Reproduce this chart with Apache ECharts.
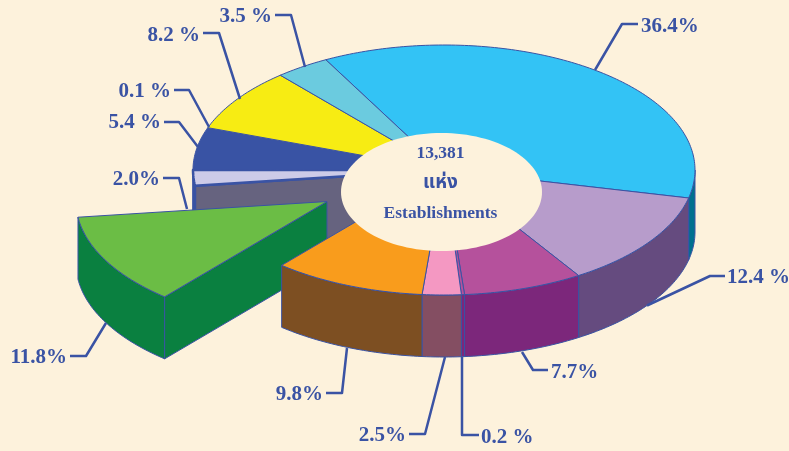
<!DOCTYPE html>
<html>
<head>
<meta charset="utf-8">
<style>html,body{margin:0;padding:0;background:#FDF2DC}#c{width:789px;height:451px}</style>
<script src="https://cdn.jsdelivr.net/npm/echarts@6/dist/echarts.min.js"></script>
</head>
<body>
<div id="c"></div>
<script>
// Data, clockwise from the start angle
var sliceNames = ['a','b','c','d','e','f','g','h','i','j','k','l'];
var sliceValues = [36.4, 12.4, 7.7, 0.2, 2.5, 9.8, 11.8, 2.0, 0.1, 5.4, 8.2, 3.5];
var sliceLabels = ['36.4%','12.4 %','7.7%','0.2 %','2.5%','9.8%','11.8%','2.0%','0.1 %','5.4 %','8.2 %','3.5 %'];
var centerLines = ['13,381', 'แห่ง', 'Establishments'];

// Styles
var topColors = ['#33C3F5','#B79CCB','#B5519C','#B5519C','#F498C2','#F99C1C','#6BBD45','#CDCBE8','#3953A4','#3953A4','#F7EC13','#6BCBDF'];
var wallColors = ['#00708F','#654B7F','#7C277B','#7C277B','#844E62','#7D4F22','#0A8040','#3953A4','#3953A4','#3953A4','#F7EC13','#6BCBDF'];
var cutWallColor = '#66637F';
var ink = '#3A53A4';
var bg = '#FDF2DC';

// Geometry
var geo = {cx:444, cy:170, rx:251, ry:125, depth:62, start:-28.1,
           holeX:441.5, holeY:192, holeRx:100.5, holeRy:59};
var explodedIndex = 6, explodeShift = [-117, 31.5];
var removedNeighbour = 7;

// Leader lines: [points], label x, label y, label alignment (per slice)
var leaders = [
 [[[595,70],[622,24],[638,24]], 641, 27, 'left'],
 [[[647,305.5],[710,276],[725,276]], 727, 278, 'left'],
 [[[522,352],[533,370],[548,370]], 551, 373, 'left'],
 [[[462,357],[462,435],[479,435]], 481, 438, 'left'],
 [[[445,357],[425,434],[409,434]], 406, 436, 'right'],
 [[[347,348],[342,393],[326,393]], 323, 395, 'right'],
 [[[106,323],[86,356],[70,356]], 67, 358, 'right'],
 [[[187,209],[179,178],[163,178]], 160, 180, 'right'],
 [[[209,127],[189,90],[174,90]], 171, 92, 'right'],
 [[[198,147],[179,122],[164,122]], 161, 123, 'right'],
 [[[240,99],[219,33],[203,33]], 200, 36, 'right'],
 [[[305,67],[291,15],[275,15]], 272, 17, 'right']
];

var total = sliceValues.reduce(function(a,b){return a+b;},0);
function pt(deg, s, dy){
  var r = deg*Math.PI/180;
  return [geo.cx + s[0] + geo.rx*Math.sin(r), geo.cy + s[1] + geo.ry*(-Math.cos(r)) + (dy||0)];
}
function arc(a0, a1, s, dy){
  var out = [], n = Math.max(1, Math.ceil(Math.abs(a1-a0)));
  for (var i=0;i<=n;i++) out.push(pt(a0+(a1-a0)*i/n, s, dy));
  return out;
}
function poly(points, fill, z, stroke, lw){
  return {type:'polygon', z2:z, shape:{points:points},
    style:{fill:fill, stroke:stroke||ink, lineWidth:lw||1, lineJoin:'round'}, silent:true};
}
function renderSlice(params, api){
  var i = params.dataIndex, kids = [];
  var before = 0;
  for (var k=0;k<i;k++) before += sliceValues[k];
  var a0 = geo.start + echarts.number.linearMap(before, [0,total], [0,360]);
  var a1 = a0 + echarts.number.linearMap(api.value(0), [0,total], [0,360]);
  var s = i===explodedIndex ? explodeShift : [0,0];
  var centre = [geo.cx+s[0], geo.cy+s[1]];
  var zTop = i===explodedIndex ? 7 : (i===removedNeighbour ? 6 : 10);
  var zWall = i===explodedIndex ? 7 : (i>=removedNeighbour ? 5 : 10);
  // visible outer wall: front half of the ellipse only
  var w0 = Math.max(a0, 90), w1 = Math.min(a1, 270);
  if (w1 > w0){
    var up = arc(w0,w1,s,0), down = arc(w1,w0,s,geo.depth);
    kids.push(poly(up.concat(down), wallColors[i], zWall));
  }
  // cut face exposed by the pulled-out slice
  if (i===removedNeighbour){
    var o = pt(a0,s,0);
    kids.push(poly([centre,o,[o[0],o[1]+geo.depth],[centre[0],centre[1]+geo.depth]], cutWallColor, 4, ink, 2.5));
  }
  if (i===explodedIndex){
    var e = pt(a0,s,0);
    kids.push(poly([centre,e,[e[0],e[1]+geo.depth],[centre[0],centre[1]+geo.depth]], wallColors[i], zWall));
  }
  kids.push(poly([centre].concat(arc(a0,a1,s,0)), topColors[i], zTop+1, ink, i===removedNeighbour?2.5:1));
  // leader and label
  var L = leaders[i];
  kids.push({type:'polyline', z2:40, shape:{points:L[0]}, silent:true,
    style:{fill:null, stroke:ink, lineWidth:2.5, lineJoin:'round'}});
  kids.push({type:'text', z2:41, silent:true, style:{text:sliceLabels[i], x:L[1], y:L[2],
    fill:ink, font:'bold 21px "Liberation Serif","Times New Roman",serif',
    textAlign:L[3], textVerticalAlign:'middle'}});
  if (i===0){
    kids.push({type:'ellipse', z2:30, silent:true,
      shape:{cx:geo.holeX, cy:geo.holeY, rx:geo.holeRx, ry:geo.holeRy},
      style:{fill:bg, stroke:null}});
    var ys=[153.5,183,213], fs=[17.5,19,17.5];
    centerLines.forEach(function(t,j){
      kids.push({type:'text', z2:31, silent:true, style:{text:t, x:440.5, y:ys[j], fill:ink,
        font:'bold '+fs[j]+'px "Liberation Serif","Noto Sans Thai","Noto Sans",serif',
        textAlign:'center', textVerticalAlign:'middle'}});
    });
  }
  return {type:'group', children:kids};
}
var chart = echarts.init(document.getElementById('c'), null, {renderer:'canvas'});
chart.setOption({
  animation:false,
  backgroundColor:bg,
  series:[{
    type:'custom', coordinateSystem:'none', silent:true,
    renderItem:renderSlice,
    data:sliceValues.map(function(v,i){return {name:sliceNames[i], value:[v]};})
  }]
});
</script>
</body>
</html>
